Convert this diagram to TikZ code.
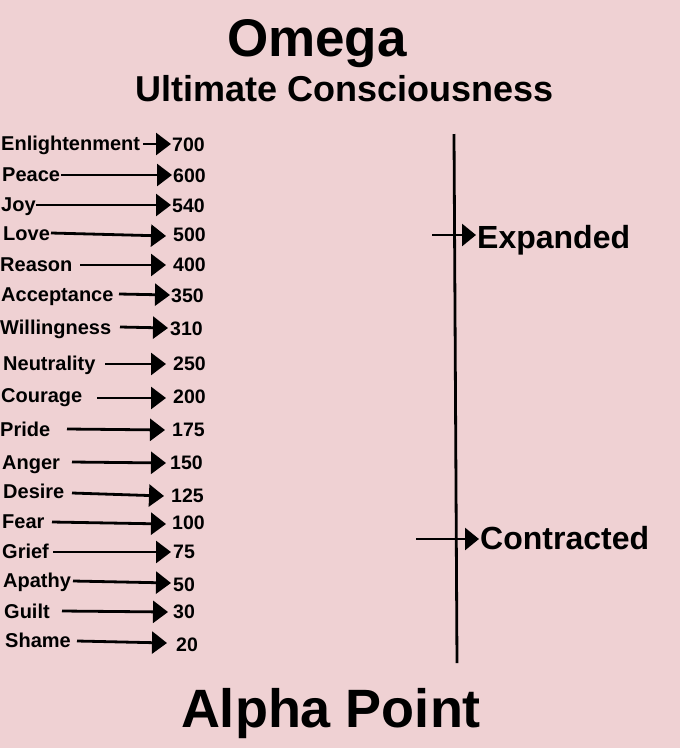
\documentclass[tikz,border=0pt]{standalone}
\usepackage{fontspec}
\setmainfont{Liberation Sans}
\usetikzlibrary{arrows.meta}
\definecolor{bgpink}{RGB}{239,209,211}
\tikzset{
  lab/.style={anchor=base west, inner sep=0pt, font=\fontsize{20}{24}\selectfont\bfseries},
  num/.style={anchor=base west, inner sep=0pt, font=\fontsize{19.5}{24}\selectfont\bfseries},
  lvl/.style={line width=2.8pt, -{Triangle[length=15pt,width=22pt]}},
  side/.style={anchor=base west, inner sep=0pt, font=\fontsize{32}{36}\selectfont\bfseries},
  sidearrow/.style={line width=2.8pt, -{Triangle[length=14pt,width=22pt]}},
  axis/.style={line width=2.8pt},
  ttl/.style={anchor=base, inner sep=0pt, font=\bfseries}
}
\begin{document}
\begin{tikzpicture}[x=1pt,y=-1pt]
\fill[bgpink] (0,0) rectangle (680,748);
\useasboundingbox (0,0) rectangle (680,748);

% titles
\node[ttl, font=\fontsize{53}{60}\selectfont\bfseries] (omega) at (317,56) {Omega};
\node[ttl, font=\fontsize{36}{42}\selectfont\bfseries] (ultimate) at (344.5,101) {Ultimate Consciousness};
\node[ttl, font=\fontsize{54}{60}\selectfont\bfseries] (alpha) at (331,727) {Alpha Point};

% levels
\foreach \i/\txt/\lx/\ly/\sx/\sy/\tx/\ty/\nx/\ny/\n in {
  1/Enlightenment/1/143/143/144/171/144/172/144/700,
  2/Peace/2/174/61/175/172/175/173/175/600,
  3/Joy/1/204/36/205/171/205/172/205/540,
  4/Love/3/233/51/233/166/236/173/234/500,
  5/Reason/0/264/80/265/166/265/173/264/400,
  6/Acceptance/1/294/119/294/170/295/171/295/350,
  7/Willingness/0/327/120/327/168/328/170/328/310,
  8/Neutrality/3/363/105/364/166/364/173/363/250,
  9/Courage/1/395/97/398/166/398/173/396/200,
  10/Pride/0/429/67/429/165/430/172/429/175,
  11/Anger/2/462/72/462/166/463/170/462/150,
  12/Desire/3/491/72/493/164/496/171/495/125,
  13/Fear/2/521/52/522/166/524/172/522/100,
  14/Grief/2/551/53/552/171/552/173/551/75,
  15/Apathy/3/580/73/581/171/583/173/584/50,
  16/Guilt/4/611/62/611/168/612/173/611/30,
  17/Shame/5/640/77/641/167/643/176/644/20}{
  \node[lab] (lab\i) at (\lx,\ly+7) {\txt};
  \node[num] (num\i) at (\nx,\ny+7) {\n};
  \coordinate (s\i) at (\sx,\sy);
  \coordinate (t\i) at (\tx,\ty);
  \draw[lvl] (s\i) -- (t\i);
}

% axis
\coordinate (vtop) at (454,134);
\coordinate (vbot) at (457,663);
\draw[axis] (vtop) -- (vbot);

\node[side] (expanded) at (477,248) {Expanded};
\coordinate (es) at (432,235);
\coordinate (et) at (476,235);
\draw[sidearrow] (es) -- (et);

\node[side] (contracted) at (480,549) {Contracted};
\coordinate (cs) at (416,539);
\coordinate (ct) at (479,539);
\draw[sidearrow] (cs) -- (ct);
\end{tikzpicture}
\end{document}
